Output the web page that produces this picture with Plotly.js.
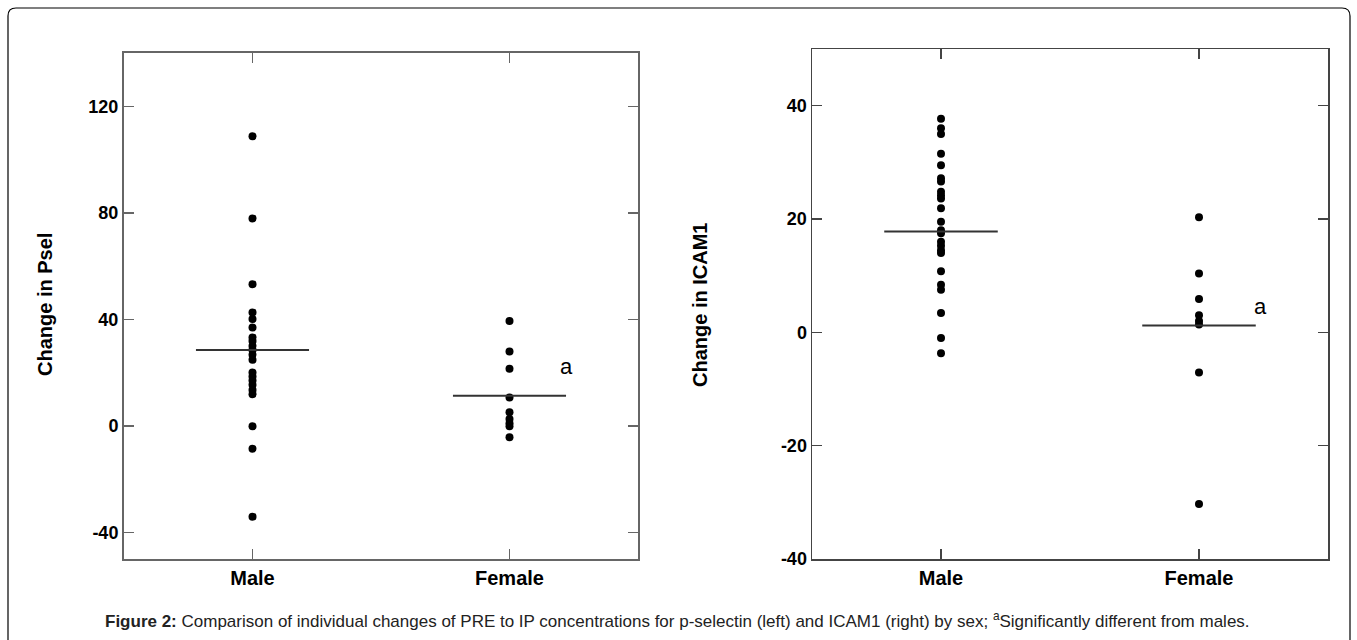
<!DOCTYPE html>
<html>
<head>
<meta charset="utf-8">
<script src="https://cdn.plot.ly/plotly-3.0.1.min.js"></script>
<style>
  html, body { margin: 0; padding: 0; background: #fff; }
  #chart { width: 1357px; height: 640px; }
</style>
</head>
<body>
<div id="chart"></div>
<script>
// Categories
const categories = ["Male", "Female"];

// P-selectin change (left panel)
const pselMale = [108.7, 77.9, 53.2, 42.6, 40.1, 36.9, 33.2, 31.9, 30.0, 28.5, 26.7, 24.8, 20.0, 18.5, 17.0, 15.4, 13.5, 11.9, -0.2, -8.6, -34.1];
const pselFemale = [39.4, 27.9, 21.4, 10.6, 5.1, 2.6, 1.0, -0.2, -4.3];
const pselMeans = [28.5, 11.3];

// ICAM1 change (right panel)
const icamMale = [37.7, 36.0, 35.0, 31.5, 29.5, 27.2, 26.6, 24.8, 24.2, 23.6, 21.9, 19.5, 18.0, 17.5, 16.0, 15.3, 14.5, 14.0, 10.8, 8.4, 7.5, 3.4, -1.0, -3.7];
const icamFemale = [20.3, 10.4, 5.9, 3.0, 2.0, 1.4, -7.1, -30.3];
const icamMeans = [17.8, 1.2];

// Tick values
const pselTicks = [-40, 0, 40, 80, 120];
const icamTicks = [-40, -20, 0, 20, 40];

const W = 1357, H = 640;
const px = v => v / W;
const py = v => 1 - v / H;

const halfW = 0.22;
const FONT = "Liberation Sans, Arial, sans-serif";

function dots(vals, idx, xa, ya) {
  return {
    type: "scatter", mode: "markers",
    x: vals.map(() => idx), y: vals,
    xaxis: xa, yaxis: ya,
    marker: { color: "#000", size: 8 },
    hoverinfo: "y", showlegend: false
  };
}
function meanLine(mean, idx, xa, ya) {
  return {
    type: "scatter", mode: "lines",
    x: [idx - halfW, idx + halfW], y: [mean, mean],
    xaxis: xa, yaxis: ya,
    line: { color: "#333", width: 2 },
    hoverinfo: "skip", showlegend: false
  };
}

const traces = [
  dots(pselMale, 0, "x", "y"),
  dots(pselFemale, 1, "x", "y"),
  meanLine(pselMeans[0], 0, "x", "y"),
  meanLine(pselMeans[1], 1, "x", "y"),
  dots(icamMale, 0, "x2", "y2"),
  dots(icamFemale, 1, "x2", "y2"),
  meanLine(icamMeans[0], 0, "x2", "y2"),
  meanLine(icamMeans[1], 1, "x2", "y2")
];

function xAxis(domain, anchor, lc, lw) {
  return {
    domain: domain, anchor: anchor, range: [-0.5, 1.5],
    tickmode: "array", tickvals: [0, 1], ticktext: categories.map(c => "<b>" + c + "</b>"),
    ticks: "inside", ticklen: 10, tickwidth: 1.5, tickcolor: lc,
    showline: true, linecolor: lc, linewidth: lw, mirror: "ticks",
    showgrid: false, zeroline: false, fixedrange: true,
    tickfont: { family: FONT, size: 20, color: "#000" }
  };
}
function yAxis(domain, anchor, range, ticks, lc, lw) {
  return {
    domain: domain, anchor: anchor, range: range,
    tickmode: "array", tickvals: ticks, ticktext: ticks.map(t => "<b>" + t + "</b>"),
    ticks: "inside", ticklen: 10, tickwidth: 1.5, tickcolor: lc,
    showline: true, linecolor: lc, linewidth: lw, mirror: "ticks",
    showgrid: false, zeroline: false, fixedrange: true,
    tickfont: { family: FONT, size: 18, color: "#000" }
  };
}

const layout = {
  width: W, height: H,
  margin: { l: 0, r: 0, t: 0, b: 0 },
  paper_bgcolor: "#fff", plot_bgcolor: "#fff",
  showlegend: false,
  xaxis: xAxis([px(124), px(638)], "y", "#666", 2),
  yaxis: yAxis([py(559), py(53)], "x", [-50, 140], pselTicks, "#666", 2),
  xaxis2: xAxis([px(812), px(1328)], "y2", "#444", 1.5),
  yaxis2: yAxis([py(559), py(49)], "x2", [-40, 50], icamTicks, "#444", 1.5),
  annotations: [
    { xref: "paper", yref: "paper", x: px(45), y: py(305), xanchor: "center", yanchor: "middle",
      text: "<b>Change in Psel</b>", textangle: -90, showarrow: false,
      font: { family: FONT, size: 20, color: "#000" } },
    { xref: "paper", yref: "paper", x: px(700), y: py(305), xanchor: "center", yanchor: "middle",
      text: "<b>Change in ICAM1</b>", textangle: -90, showarrow: false,
      font: { family: FONT, size: 20, color: "#000" } },
    { xref: "x", yref: "y", x: 1.22, y: 22.3, text: "a", showarrow: false,
      font: { family: FONT, size: 22, color: "#000" } },
    { xref: "x2", yref: "y2", x: 1.24, y: 4.6, text: "a", showarrow: false,
      font: { family: FONT, size: 22, color: "#000" } },
    { xref: "paper", yref: "paper", x: px(677), y: py(620), xanchor: "center", yanchor: "middle",
      text: "<b>Figure 2:</b> Comparison of individual changes of PRE to IP concentrations for p-selectin (left) and ICAM1 (right) by sex; <sup>a</sup>Significantly different from males.",
      showarrow: false, font: { family: FONT, size: 17, color: "#222" } }
  ],
  shapes: [
    { type: "path", xref: "paper", yref: "paper",
      path: `M ${px(8)},${py(700)} L ${px(8)},${py(16)} Q ${px(8)},${py(8)} ${px(16)},${py(8)} L ${px(1342)},${py(8)} Q ${px(1350)},${py(8)} ${px(1350)},${py(16)} L ${px(1350)},${py(700)}`,
      line: { color: "#000", width: 1.2 } }
  ]
};

Plotly.newPlot("chart", traces, layout, { displayModeBar: false, staticPlot: true });
</script>
</body>
</html>
